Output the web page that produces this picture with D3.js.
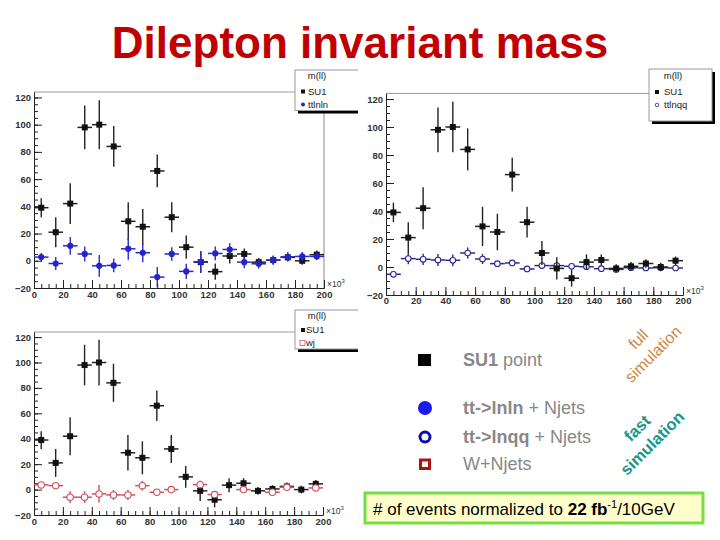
<!DOCTYPE html>
<html>
<head>
<meta charset="utf-8">
<script src="https://cdn.jsdelivr.net/npm/d3@7"></script>
<style>
  body { margin: 0; background: #fff; }
  svg { font-family: "Liberation Sans", Arial, Helvetica, sans-serif; display: block; }
  .tick text { font-size: 9.5px; font-weight: bold; fill: #333; }
  .legend-text { font-size: 9.5px; fill: #222; }
</style>
</head>
<body>
<div id="chart"></div>
<script>
// bin centres of m(ll), in units of 10^3 (10 GeV bins)
const binCenters = [5, 15, 25, 35, 45, 55, 65, 75, 85, 95, 105, 115, 125, 135, 145, 155, 165, 175, 185, 195];
const yTickValues = [-20, 0, 20, 40, 60, 80, 100, 120];
const xTickValues = [0, 20, 40, 60, 80, 100, 120, 140, 160, 180, 200];

// SU1 signal (same in all three panels)
const su1Values = [39, 21, 42, 98, 100, 84, 29, 25, 66, 32, 10, -1, -8, 3.5, 5, -1, 0.5, 2.5, 0, 4.5];
const su1Errors = [7, 11, 15, 16, 18, 15, 14, 13, 12, 11, 8.5, 8, 6, 5.5, 4, 3, 3, 3, 3, 3];

// backgrounds
const ttlnlnValues = [2.7, -2, 11, 5, -3.7, -3.4, 8.8, 5.9, -12, 5, -7.8, -0.7, 5.4, 8.3, -1, -2.2, 0.5, 2.9, 3.2, 3.2];
const ttlnlnErrors = [3, 4.7, 6.5, 5.5, 8, 5, 8, 7, 7.5, 5, 5.6, 7.7, 5, 4.5, 4.5, 3.4, 3.4, 3.3, 3.3, 2.7];
const ttlnqqValues = [-5.2, 6, 5.5, 5, 4.8, 10, 5.7, 2.4, 2.9, -1.4, 1, 1, 0.5, 0.2, -1.2, -1.7, -0.5, -0.7, -0.5, -0.7];
const ttlnqqErrors = [1.5, 4, 4, 4.2, 4.2, 4, 3.6, 2, 1.5, 1, 1.5, 1, 1, 1, 1, 1, 1, 1, 1, 1];
const wjValues = [3.7, 3.1, -6, -6, -3.4, -4.2, -4.2, 3.1, -2.1, 0, null, 3.9, -3.9, null, 0, null, -2.1, 1.8, null, 1.3];
const wjErrors = [1.5, 1.5, 4.6, 4.6, 7, 4, 4, 3.8, 1.3, 1, null, 1.5, 2.5, null, 2, null, 1, 1, null, 1];

const legendItems = [
    { bold: 'SU1', rest: ' point', marker: 'square' },
    { bold: 'tt->lnln', rest: ' + Njets', marker: 'dot' },
    { bold: 'tt->lnqq', rest: ' + Njets', marker: 'ring' },
    { bold: '', rest: 'W+Njets', marker: 'box' }
];

const su1Series = { name: 'SU1', values: su1Values, errors: su1Errors, marker: 'square', color: '#111', barColor: '#222' };
const ttlnlnSeries = { name: 'ttlnln', values: ttlnlnValues, errors: ttlnlnErrors, marker: 'dot', color: '#2424c8', barColor: '#2a2ad0' };
const ttlnqqSeries = { name: 'ttlnqq', values: ttlnqqValues, errors: ttlnqqErrors, marker: 'ring', color: '#2a2a90', barColor: '#2a2a90' };
const wjSeries = { name: 'wj', values: wjValues, errors: wjErrors, marker: 'box', color: '#d05060', barColor: '#d05060' };

const svg = d3.select('#chart').append('svg')
    .attr('width', 720)
    .attr('height', 540);

// draws a ROOT-style marker
function drawMarker(g, type, cx, cy, color) {
    if (type === 'square') {
        g.append('rect').attr('x', cx - 3).attr('y', cy - 3).attr('width', 6).attr('height', 6).attr('fill', color);
    } else if (type === 'dot') {
        g.append('circle').attr('cx', cx).attr('cy', cy).attr('r', 3.1).attr('fill', color);
    } else if (type === 'ring') {
        g.append('circle').attr('cx', cx).attr('cy', cy).attr('r', 2.8)
            .attr('fill', '#fff').attr('stroke', color).attr('stroke-width', 1.1);
    } else {
        g.append('circle').attr('cx', cx).attr('cy', cy).attr('r', 3.2)
            .attr('fill', '#fff').attr('stroke', color).attr('stroke-width', 1.1);
    }
}

class MassPanel {
    /** Class Constructor */
    constructor(_config, _series) {
        this.config = {
            id: _config.id,
            xRange: _config.xRange,
            yRange: _config.yRange,
            clipRight: _config.clipRight || 720,
            rightFrame: _config.rightFrame || false,
            legend: _config.legend,
            labelPad: _config.labelPad || 3,
            bgFirst: _config.bgFirst || false
        }
        this.series = _series;
        this.initVis();
    }

    initVis() {
        let vis = this;

        vis.x = d3.scaleLinear().domain([0, 200]).range(vis.config.xRange);
        vis.y = d3.scaleLinear().domain([-20, 124]).range(vis.config.yRange);

        svg.append('clipPath').attr('id', `clip-${vis.config.id}`)
            .append('rect')
            .attr('x', 0).attr('y', 0)
            .attr('width', vis.config.clipRight).attr('height', 540);

        vis.g = svg.append('g').attr('clip-path', `url(#clip-${vis.config.id})`);

        // frame (top, and right for some panels)
        vis.g.append('line')
            .attr('x1', vis.x(0)).attr('x2', vis.config.legend.x)
            .attr('y1', vis.y(124)).attr('y2', vis.y(124))
            .attr('stroke', '#999').attr('stroke-width', 1);
        if (vis.config.rightFrame) {
            vis.g.append('line')
                .attr('x1', vis.x(200)).attr('x2', vis.x(200))
                .attr('y1', vis.y(124)).attr('y2', vis.y(-20))
                .attr('stroke', '#888').attr('stroke-width', 1);
        }

        vis.renderAxes();
        vis.renderVis();
        vis.renderLegend();
    }

    renderAxes() {
        let vis = this;
        const yMinor = d3.range(-20, 125, 5);
        const xMinor = d3.range(0, 201, 5);

        const yAxis = d3.axisLeft(vis.y).tickValues(yTickValues).tickSize(-8).tickSizeOuter(0).tickPadding(3);
        const yAxisMinor = d3.axisLeft(vis.y).tickValues(yMinor).tickSize(-4).tickSizeOuter(0).tickFormat('');
        const xAxis = d3.axisBottom(vis.x).tickValues(xTickValues).tickSize(-8).tickSizeOuter(0).tickPadding(vis.config.labelPad);
        const xAxisMinor = d3.axisBottom(vis.x).tickValues(xMinor).tickSize(-4).tickSizeOuter(0).tickFormat('');

        [yAxisMinor, yAxis].forEach(ax => {
            vis.g.append('g')
                .attr('transform', `translate(${vis.x(0)},0)`)
                .call(ax)
                .call(g => g.selectAll('path, line').attr('stroke', '#222'));
        });
        [xAxisMinor, xAxis].forEach(ax => {
            vis.g.append('g')
                .attr('transform', `translate(0,${vis.y(-20)})`)
                .call(ax)
                .call(g => g.selectAll('path, line').attr('stroke', '#222'));
        });

        // x10^3 exponent label, sitting just above the axis end
        const expo = vis.g.append('text')
            .attr('x', vis.x(200) + 3)
            .attr('y', vis.y(-20) - 1.5)
            .attr('font-size', 8.5)
            .attr('fill', '#333')
            .text('×10');
        expo.append('tspan').attr('dy', -4).attr('font-size', 6).text('3');
    }

    renderVis() {
        let vis = this;
        const ordered = vis.config.bgFirst ? vis.series.slice().reverse() : vis.series;

        ordered.forEach(s => {
            const pts = binCenters.map((c, i) => ({ c: c, v: s.values[i], e: s.errors[i] }))
                .filter(d => d.v !== null);
            const sg = vis.g.append('g').attr('class', `series-${s.name}`);

            // horizontal bars spanning the bin width
            sg.selectAll('.hbar')
                    .data(pts)
                .join('line')
                    .attr('class', 'hbar')
                    .attr('x1', d => vis.x(d.c - 5))
                    .attr('x2', d => vis.x(d.c + 5))
                    .attr('y1', d => vis.y(d.v))
                    .attr('y2', d => vis.y(d.v))
                    .attr('stroke', s.barColor)
                    .attr('stroke-width', 1.5);

            // vertical error bars
            sg.selectAll('.vbar')
                    .data(pts)
                .join('line')
                    .attr('class', 'vbar')
                    .attr('x1', d => vis.x(d.c))
                    .attr('x2', d => vis.x(d.c))
                    .attr('y1', d => vis.y(d.v - d.e))
                    .attr('y2', d => vis.y(d.v + d.e))
                    .attr('stroke', s.barColor)
                    .attr('stroke-width', 1.4);

            pts.forEach(d => drawMarker(sg, s.marker, vis.x(d.c), vis.y(d.v), s.color));
        });
    }

    renderLegend() {
        let vis = this;
        const L = vis.config.legend;
        const lg = vis.g.append('g').attr('class', 'legend');

        lg.append('rect')
            .attr('x', L.x + 3).attr('y', L.y + 3)
            .attr('width', L.w).attr('height', L.h)
            .attr('fill', '#000');
        lg.append('rect')
            .attr('x', L.x).attr('y', L.y)
            .attr('width', L.w).attr('height', L.h)
            .attr('fill', '#fff').attr('stroke', '#999').attr('stroke-width', 1);

        lg.append('text')
            .attr('class', 'legend-text')
            .attr('x', L.titleX).attr('y', L.rows[0])
            .attr('text-anchor', 'middle')
            .attr('dy', '.35em')
            .attr('fill', '#444')
            .text('m(ll)');

        vis.series.forEach((s, i) => {
            const cy = L.rows[i + 1];
            const mg = lg.append('g');
            if (s.marker === 'square') {
                mg.append('rect').attr('x', L.x + 6).attr('y', cy - 2).attr('width', 4).attr('height', 4).attr('fill', s.color);
            } else if (s.marker === 'dot') {
                mg.append('circle').attr('cx', L.x + 8).attr('cy', cy).attr('r', 2).attr('fill', s.color);
            } else if (s.marker === 'ring') {
                mg.append('circle').attr('cx', L.x + 8).attr('cy', cy).attr('r', 1.8)
                    .attr('fill', 'none').attr('stroke', s.color).attr('stroke-width', 0.8);
            } else {
                mg.append('rect').attr('x', L.x + 5).attr('y', cy - 2.5).attr('width', 5).attr('height', 5)
                    .attr('fill', 'none').attr('stroke', s.color).attr('stroke-width', 0.8);
            }
            lg.append('text')
                .attr('class', 'legend-text')
                .attr('x', L.x + L.textDx).attr('y', cy)
                .attr('dy', '.35em')
                .text(s.name);
        });
    }
}

// title
svg.append('text')
    .attr('x', 360).attr('y', 58)
    .attr('text-anchor', 'middle')
    .attr('font-size', 44)
    .attr('font-weight', 'bold')
    .attr('fill', '#c00000')
    .text('Dilepton invariant mass');

new MassPanel({
    id: 'lnln', xRange: [34, 324], yRange: [288, 92], clipRight: 358, rightFrame: true,
    legend: { x: 295, y: 70, w: 70, h: 40.5, titleX: 317, rows: [76, 91.5, 104.5], textDx: 13 }
}, [su1Series, ttlnlnSeries]);

new MassPanel({
    id: 'lnqq', xRange: [386, 683], yRange: [295, 93.4], labelPad: 2, bgFirst: true,
    legend: { x: 649, y: 69, w: 63, h: 52, titleX: 673, rows: [76, 92, 105], textDx: 15 }
}, [su1Series, ttlnqqSeries]);

new MassPanel({
    id: 'wj', xRange: [34, 323], yRange: [515, 332], clipRight: 358,
    legend: { x: 295, y: 310, w: 70, h: 39, titleX: 317, rows: [316, 330, 343], textDx: 11 }
}, [su1Series, wjSeries]);

// sample key on the right
const key = svg.append('g').attr('class', 'sample-key');
const keyRows = [360, 408, 437, 464];
const keyColors = ['#000', '#1a1aee', '#0a0ab4', '#b01010'];

legendItems.forEach((d, i) => {
    const cy = keyRows[i];
    if (d.marker === 'square') {
        key.append('rect').attr('x', 418).attr('y', cy - 6).attr('width', 13).attr('height', 12).attr('fill', keyColors[i]);
    } else if (d.marker === 'dot') {
        key.append('circle').attr('cx', 425).attr('cy', cy).attr('r', 7).attr('fill', keyColors[i]);
    } else if (d.marker === 'ring') {
        key.append('circle').attr('cx', 425).attr('cy', cy).attr('r', 5)
            .attr('fill', '#fff').attr('stroke', keyColors[i]).attr('stroke-width', 3);
    } else {
        key.append('rect').attr('x', 420.5).attr('y', cy - 4).attr('width', 9).attr('height', 8.5)
            .attr('fill', '#fff').attr('stroke', keyColors[i]).attr('stroke-width', 3);
    }
    const t = key.append('text')
        .attr('x', 463).attr('y', cy + 6)
        .attr('font-size', 18)
        .attr('fill', '#888');
    if (d.bold) t.append('tspan').attr('font-weight', 'bold').text(d.bold);
    t.append('tspan').text(d.rest);
});

// rotated simulation labels
const simLabels = [
    { lines: ['full', 'simulation'], cx: 653, cy: 354, color: '#d08640', weight: 'normal', size: 16 },
    { lines: ['fast', 'simulation'], cx: 652, cy: 443, color: '#1a978c', weight: 'bold', size: 16.5 }
];
simLabels.forEach(s => {
    const tg = svg.append('g').attr('transform', `translate(${s.cx},${s.cy}) rotate(-45)`);
    s.lines.forEach((line, i) => {
        tg.append('text')
            .attr('x', 0).attr('y', (i - 1) * 21)
            .attr('dy', '.35em')
            .attr('text-anchor', 'middle')
            .attr('font-size', s.size)
            .attr('font-weight', s.weight)
            .attr('fill', s.color)
            .text(line);
    });
});

// normalisation note
svg.append('rect')
    .attr('x', 365).attr('y', 493)
    .attr('width', 338).attr('height', 30)
    .attr('fill', '#ffffcc')
    .attr('stroke', '#77dd44')
    .attr('stroke-width', 3);

const note = svg.append('text')
    .attr('x', 373).attr('y', 515)
    .attr('font-size', 17)
    .attr('fill', '#000');
note.append('tspan').text('# of events normalized to ');
note.append('tspan').attr('font-weight', 'bold').text('22 fb');
note.append('tspan').attr('font-size', 11).attr('dy', -7).text('-1');
note.append('tspan').attr('dy', 7).text('/10GeV');
</script>
</body>
</html>
